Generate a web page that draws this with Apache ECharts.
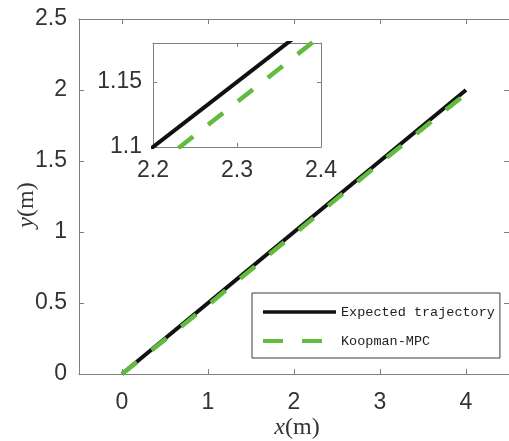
<!DOCTYPE html>
<html>
<head>
<meta charset="utf-8">
<script src="https://cdn.jsdelivr.net/npm/echarts@6/dist/echarts.min.js"></script>
<style>html,body{margin:0;padding:0;background:#fff}#c{width:509px;height:441px}</style>
</head>
<body>
<div id="c"></div>
<script>
// ---- data ----
var seriesNames = ['Expected trajectory', 'Koopman-MPC'];
var expectedX = [0, 4];
var expectedY = [0, 2];
var koopmanX = [0, 1, 2, 2.232, 2.389, 3, 3.97];
var koopmanY = [0, 0.485, 0.985, 1.1, 1.18, 1.485, 1.96];
var mainXTicks = [0, 1, 2, 3, 4];
var mainYTicks = [0, 0.5, 1, 1.5, 2, 2.5];
var insetXTicks = [2.2, 2.3, 2.4];
var insetYTicks = [1.1, 1.15];
var xName = 'x';
var yName = 'y';
var unitName = '(m)';

function pairs(xs, ys) { return xs.map(function (x, i) { return [x, ys[i]]; }); }

var axisColor = '#7f7f7f';
var labelColor = '#333';
var labelFont = 'Liberation Sans';
var black = '#111';
var green = '#62bb3f';

function mkAxis(grid, min, max, ticks, pos, showLabels, margin, fs) {
  return {
    type: 'value', gridIndex: grid, min: min, max: max, position: pos,
    axisLine: { show: true, onZero: false, lineStyle: { color: axisColor, width: 1 } },
    axisTick: { show: true, inside: true, length: grid === 0 ? 5 : 4, customValues: ticks, lineStyle: { color: axisColor } },
    axisLabel: { show: showLabels, customValues: ticks, margin: margin, color: labelColor, fontFamily: labelFont, fontSize: fs,
      formatter: function (v) { return String(v); } },
    splitLine: { show: false }
  };
}

var chart = echarts.init(document.getElementById('c'), null, { renderer: 'canvas' });
chart.setOption({
  animation: false,
  backgroundColor: '#fff',
  grid: [
    { left: 79, top: 19, width: 433, height: 355, containLabel: false },
    { left: 153, top: 43, width: 168, height: 104, containLabel: false, show: true, backgroundColor: '#fff', borderWidth: 0 }
  ],
  xAxis: [
    mkAxis(0, -0.5, 4.5, mainXTicks, 'bottom', true, 17, 23),
    mkAxis(0, -0.5, 4.5, mainXTicks, 'top', false, 8, 23),
    mkAxis(1, 2.2, 2.4, insetXTicks, 'bottom', true, 12, 23),
    mkAxis(1, 2.2, 2.4, insetXTicks, 'top', false, 8, 23)
  ],
  yAxis: [
    mkAxis(0, 0, 2.5, mainYTicks, 'left', true, 12, 23),
    mkAxis(0, 0, 2.5, mainYTicks, 'right', false, 8, 23),
    mkAxis(1, 1.1, 1.18, insetYTicks, 'left', true, 11, 23),
    mkAxis(1, 1.1, 1.18, insetYTicks, 'right', false, 8, 23)
  ],
  legend: {
    orient: 'vertical', left: 252, top: 293,
    data: [
      { name: seriesNames[0], lineStyle: { color: black, width: 3.5, type: 'solid' } },
      { name: seriesNames[1], lineStyle: { color: green, width: 4, type: [20, 19] } }
    ],
    backgroundColor: '#fff',
    borderColor: '#3c3c3c', borderWidth: 1,
    padding: [12, 5, 10, 9],
    itemWidth: 73, itemHeight: 14, itemGap: 15,
    itemStyle: { color: 'rgba(0,0,0,0)', borderWidth: 0, opacity: 0 },
    textStyle: { fontFamily: 'Liberation Mono', fontSize: 13.5, color: '#222' }
  },
  series: [
    { name: seriesNames[0], type: 'line', xAxisIndex: 0, yAxisIndex: 0, data: pairs(expectedX, expectedY),
      symbol: 'none', z: 2, lineStyle: { color: black, width: 4 }, itemStyle: { color: black } },
    { name: seriesNames[1], type: 'line', xAxisIndex: 0, yAxisIndex: 0, data: pairs(koopmanX, koopmanY),
      symbol: 'none', z: 3, lineStyle: { color: green, width: 4.5, type: [19, 19] }, itemStyle: { color: green } },
    { name: seriesNames[0], type: 'line', xAxisIndex: 2, yAxisIndex: 2, data: pairs(expectedX, expectedY),
      symbol: 'none', z: 4, clip: true, lineStyle: { color: black, width: 4 }, itemStyle: { color: black } },
    { name: seriesNames[1], type: 'line', xAxisIndex: 2, yAxisIndex: 2, data: pairs(koopmanX, koopmanY),
      symbol: 'none', z: 5, clip: true, lineStyle: { color: green, width: 4.5, type: [19, 19] }, itemStyle: { color: green } }
  ],
  graphic: [
    { type: 'text', x: 297, y: 428, style: {
        text: '{i|' + xName + '}{n|' + unitName + '}', align: 'center', verticalAlign: 'middle',
        rich: { i: { fontFamily: 'Liberation Serif', fontStyle: 'italic', fontSize: 24, fill: '#333' },
                n: { fontFamily: 'Liberation Serif', fontSize: 24, fill: '#333' } } } },
    { type: 'text', x: 27, y: 205, rotation: Math.PI / 2, style: {
        text: '{i|' + yName + '}{n|' + unitName + '}', align: 'center', verticalAlign: 'middle',
        rich: { i: { fontFamily: 'Liberation Serif', fontStyle: 'italic', fontSize: 24, fill: '#333' },
                n: { fontFamily: 'Liberation Serif', fontSize: 24, fill: '#333' } } } }
  ]
});
</script>
</body>
</html>
